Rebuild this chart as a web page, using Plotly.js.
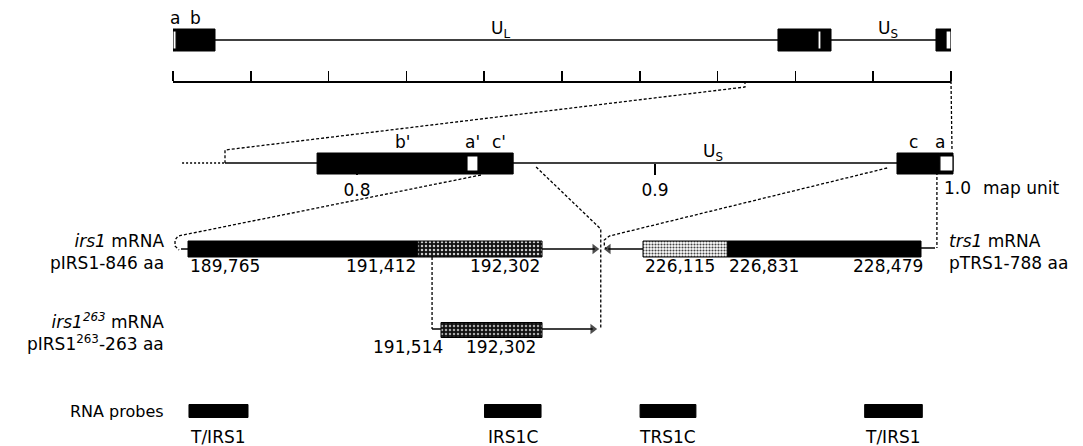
<!DOCTYPE html>
<html><head><meta charset="utf-8">
<script src="https://cdn.plot.ly/plotly-3.0.1.min.js"></script>
<style>html,body{margin:0;padding:0;background:#fff;}</style>
</head><body><div id="chart" style="width:1083px;height:446px;"></div>
<script>
// ================= DATA =================
// Whole genome (map units 0..1)
const genomeRegions = ['a', 'b', "b'", "a'", "c'", 'c', 'a'];
const genomeStart   = [0.000, 0.004, 0.7776, 0.829, 0.8329, 0.9807, 0.9936];
const genomeEnd     = [0.004, 0.054, 0.829, 0.8329, 0.8458, 0.9936, 1.000];
const genomeLabelled = ['a', 'b'];            // region labels shown on the genome line
const genomeUniqueLabels = ['U<sub>L</sub>', 'U<sub>S</sub>'];
const genomeUniqueSpans = [[0.054, 0.7776], [0.8458, 0.9807]];
const mapScaleTicks = [0, 0.1, 0.2, 0.3, 0.4, 0.5, 0.6, 0.7, 0.8, 0.9, 1.0];
const zoomFrom = 0.7352;                     // start of expanded region on the genome

// Expanded S component (map units)
const zoomRegions = ["b'", "a'", "c'", 'c', 'a'];
const zoomStart   = [0.7866, 0.8369, 0.8406, 0.9812, 0.9956];
const zoomEnd     = [0.8369, 0.8406, 0.8524, 0.9956, 1.000];
const zoomLine    = [0.7557, 1.000];
const zoomDotted  = [0.7413, 0.7557];
const zoomTicks   = [0.8, 0.9];
const zoomUniqueLabel = 'U<sub>S</sub>';

// Transcripts (nucleotide coordinates)
const irs1Orf     = [189765, 191412, 192302];   // ORF start, shared-region start, ORF end
const irs1Mrna    = [189715, 192680];           // 5' end, 3' end (arrow)
const irs263Orf   = [191578, 192302];
const irs263Mrna  = [191514, 192665];
const irs263Labels = [191514, 192302];
const trs1Orf     = [226115, 226831, 228479];   // ORF end(left), shared-region end, ORF start(right)
const trs1Mrna    = [228598, 225820];           // 5' end (right), 3' end (arrow, left)

const mrnaNames = ['<i>irs1</i> mRNA<br>pIRS1-846 aa',
                   '<i>irs1<sup>263</sup></i> mRNA<br>pIRS1<sup>263</sup>-263 aa',
                   '<i>trs1</i> mRNA<br>pTRS1-788 aa'];

// RNA probes
const probeNames = ['T/IRS1', 'IRS1C', 'TRS1C', 'T/IRS1'];
const probeStart = [189772, 191890, 226090, 228000];
const probeEnd   = [190195, 192295, 226565, 228490];
const probeGene  = ['irs1', 'irs1', 'trs1', 'trs1'];

// ================= LAYOUT / SCALES =================
const W = 1083, H = 446;
const FONT = 'DejaVu Sans';
const axX  = {domain: [173 / W, 951 / W], range: [0, 1]};
const axX2 = {domain: [0, 1], range: [0.68020, 1.04362]};
const axX3 = {domain: [0, 1], range: [188417.7, 196178.9]};
const axX4 = {domain: [0, 1], range: [220647.2, 229856.6]};
const axes = {x: axX, x2: axX2, x3: axX3, x4: axX4};
function P(ax, v) { const a = axes[ax]; return a.domain[0] + (v - a.range[0]) / (a.range[1] - a.range[0]) * (a.domain[1] - a.domain[0]); }
const px = d => d / W;

// row positions (pixels from top, y axis is reversed 0..446)
const Y_GEN = 40, Y_SCALE = 81, Y_ZOOM = 163, Y_MRNA = 249, Y_263 = 330, Y_PROBE = 411;

const traces = [];
const shapes = [];
function line(xa, xs, y, dash) {
  shapes.push({type: 'line', xref: xa, yref: 'y', x0: xs[0], x1: xs[1], y0: y, y1: y, layer: 'below',
    line: {color: 'black', width: 1.5, dash: dash || 'solid'}});
}
function bars(xa, starts, ends, y, h, marker) {
  traces.push({type: 'bar', orientation: 'h', xaxis: xa, yaxis: 'y', base: starts,
    x: starts.map((s, i) => ends[i] - s), y: starts.map(() => y), width: h,
    marker: marker, hoverinfo: 'skip', showlegend: false});
}
function arrow(xa, from, to, y, sym) {
  traces.push({type: 'scatter', mode: 'lines+markers', xaxis: xa, yaxis: 'y', x: [from, to], y: [y, y],
    line: {color: 'black', width: 1.5}, marker: {symbol: sym, size: [0, 9], color: 'black', line: {width: 0}},
    hoverinfo: 'skip', showlegend: false, cliponaxis: false});
}
const BLACK = {color: 'black', line: {color: 'black', width: 1}};
const WHITE = {color: 'white', line: {color: 'black', width: 1.2}};

// genome
line('x', [0, 1], Y_GEN);
bars('x', genomeStart, genomeEnd, Y_GEN, 22, BLACK);
const gA = genomeRegions.map((r, i) => r.startsWith('a') ? i : -1).filter(i => i >= 0);
bars('x', gA.map(i => genomeStart[i]), gA.map(i => genomeEnd[i]), Y_GEN, 18, WHITE);

// zoom row
line('x2', zoomLine, Y_ZOOM);
line('x2', zoomDotted, Y_ZOOM, '2px,2px');
bars('x2', zoomStart, zoomEnd, Y_ZOOM + 0.5, 21, BLACK);
const zA = zoomRegions.map((r, i) => r.startsWith('a') ? i : -1).filter(i => i >= 0);
bars('x2', zA.map(i => zoomStart[i]), zA.map(i => zoomEnd[i]), Y_ZOOM + 0.5, 15, WHITE);

// transcripts
const stippleDark = {color: 'black', line: {color: 'black', width: 1},
  pattern: {shape: '.', bgcolor: '#111', fgcolor: '#ccc', size: 4, solidity: 0.3, fillmode: 'replace'}};
const stippleDarker = {color: 'black', line: {color: 'black', width: 1},
  pattern: {shape: '.', bgcolor: '#111', fgcolor: '#aaa', size: 4, solidity: 0.3, fillmode: 'replace'}};
const stippleLight = {color: 'white', line: {color: 'black', width: 1},
  pattern: {shape: '.', bgcolor: '#fff', fgcolor: '#444', size: 3, solidity: 0.4, fillmode: 'replace'}};

line('x3', [irs1Mrna[0], irs1Orf[2]], Y_MRNA);
bars('x3', [irs1Orf[0]], [irs1Orf[1]], Y_MRNA, 16, BLACK);
bars('x3', [irs1Orf[1]], [irs1Orf[2]], Y_MRNA, 16, stippleDark);
arrow('x3', irs1Orf[2], irs1Mrna[1], Y_MRNA, 'triangle-right');

line('x3', [irs263Mrna[0], irs263Orf[1]], Y_263 - 1);
bars('x3', [irs263Orf[0]], [irs263Orf[1]], Y_263, 15, stippleDarker);
arrow('x3', irs263Orf[1], irs263Mrna[1], Y_263 - 1, 'triangle-right');

line('x4', [trs1Orf[0], trs1Mrna[0]], Y_MRNA - 1);
bars('x4', [trs1Orf[1]], [trs1Orf[2]], Y_MRNA, 16, BLACK);
bars('x4', [trs1Orf[0]], [trs1Orf[1]], Y_MRNA, 16, stippleLight);
arrow('x4', trs1Orf[0], trs1Mrna[1], Y_MRNA, 'triangle-left');

// probes
['irs1', 'trs1'].forEach(g => {
  const idx = probeGene.map((p, i) => p === g ? i : -1).filter(i => i >= 0);
  bars(g === 'irs1' ? 'x3' : 'x4', idx.map(i => probeStart[i]), idx.map(i => probeEnd[i]), Y_PROBE, 13, BLACK);
});

// ================= ANNOTATIONS =================
const ann = [];
function txt(xref, x, y, text, o) {
  ann.push(Object.assign({xref: xref, yref: 'y', x: x, y: y, text: text, showarrow: false,
    font: {family: FONT, size: 17, color: 'black'}, xanchor: 'center', yanchor: 'middle'}, o || {}));
}
genomeLabelled.forEach(lbl => {
  const i = genomeRegions.indexOf(lbl);
  txt('x', (genomeStart[i] + genomeEnd[i]) / 2, 18, lbl);
});
genomeUniqueLabels.forEach((l, i) => txt('x', (genomeUniqueSpans[i][0] + genomeUniqueSpans[i][1]) / 2, 29, l, {xshift: 4}));

const zoomLabelShift = {"b'": 10, "a'": 0, "c'": 3, 'c': -5, 'a': -6};
zoomRegions.forEach((r, i) => txt('x2', (zoomStart[i] + zoomEnd[i]) / 2, 142, r, {xshift: zoomLabelShift[r]}));
txt('x2', (zoomEnd[2] + zoomStart[3]) / 2, 152, zoomUniqueLabel, {xshift: 8});
txt('x2', 1.0, 188, '1.0', {xanchor: 'left', xshift: -11});
txt('x2', 1.0, 188, 'map unit', {xanchor: 'left', xshift: 28});

const fmt = v => v.toLocaleString('en-US');
txt('x3', irs1Orf[0], 266, fmt(irs1Orf[0]), {xanchor: 'left'});
txt('x3', irs1Orf[1], 266, fmt(irs1Orf[1]), {xanchor: 'right'});
txt('x3', irs1Orf[2], 266, fmt(irs1Orf[2]), {xanchor: 'right'});
txt('x3', irs263Orf[0], 347, fmt(irs263Labels[0]), {xanchor: 'right', xshift: 4});
txt('x3', irs263Labels[1], 347, fmt(irs263Labels[1]), {xanchor: 'right', xshift: -4});
txt('x4', trs1Orf[0], 266, fmt(trs1Orf[0]), {xanchor: 'left'});
txt('x4', trs1Orf[1], 266, fmt(trs1Orf[1]), {xanchor: 'left'});
txt('x4', trs1Orf[2], 266, fmt(trs1Orf[2]), {xanchor: 'right', xshift: 4});

txt('paper', px(166), 252, mrnaNames[0], {xanchor: 'right', align: 'right'});
txt('paper', px(166), 332, mrnaNames[1], {xanchor: 'right', align: 'right'});
txt('paper', px(947), 252, mrnaNames[2], {xanchor: 'left', align: 'left'});
txt('paper', px(166), Y_PROBE, 'RNA probes', {xanchor: 'right', font: {family: FONT, size: 16, color: 'black'}});
probeNames.forEach((n, i) => {
  const a = probeGene[i] === 'irs1' ? 'x3' : 'x4';
  txt(a, (probeStart[i] + probeEnd[i]) / 2, 437, n);
});

// ================= DASHED CONNECTORS =================
function path(pts, dash) {
  const d = pts.map((p, i) => (i ? 'L' : 'M') + p[0].toFixed(5) + ',' + p[1]).join(' ');
  shapes.push({type: 'path', xref: 'paper', yref: 'y', path: d, line: {color: 'black', width: 1.3, dash: dash || '3px,2px'}});
}
const zs = P('x', zoomFrom), ze = P('x', 1.0);
path([[zs, Y_SCALE], [zs, Y_SCALE + 6], [P('x2', zoomLine[0]), 150], [P('x2', zoomLine[0]), Y_ZOOM]]);
path([[ze, Y_SCALE], [P('x2', 1.0) - px(1), 151]]);
const s1 = P('x3', irs1Mrna[0]);
path([[P('x2', 0.8416), 175], [s1 - px(3), 236], [s1 - px(6), 240], [s1 - px(6), 246], [s1 - px(2), 250]]);
const aEnd = P('x3', irs1Mrna[1]) + px(6);
path([[P('x2', 0.8601), 167], [aEnd, 229], [aEnd, Y_263 - 1]]);
const t1 = P('x4', trs1Mrna[1]) - px(4);
path([[P('x2', 0.9779), 168], [t1 + px(5), 236], [t1, 240], [t1, 246], [t1 + px(2), 249]]);
const tA = P('x2', 0.9946);
path([[tA, 172], [tA, Y_MRNA - 1]]);
const r263 = P('x3', irs263Mrna[0]);
path([[r263, 257], [r263, Y_263 - 1]]);

const hidden = {visible: false, showgrid: false, zeroline: false, fixedrange: true};
const layout = {
  width: W, height: H, autosize: false,
  margin: {l: 0, r: 0, t: 0, b: 0, pad: 0},
  paper_bgcolor: 'white', plot_bgcolor: 'rgba(0,0,0,0)',
  showlegend: false, barmode: 'overlay', bargap: 0,
  font: {family: FONT, size: 17, color: 'black'},
  xaxis: {domain: axX.domain, range: axX.range, anchor: 'free', position: 1 - Y_SCALE / H, side: 'top',
    showline: true, linecolor: 'black', linewidth: 1.5, ticks: 'outside', ticklen: 10, tickwidth: 1.5,
    tickcolor: 'black', tickvals: mapScaleTicks, showticklabels: false, showgrid: false, zeroline: false, fixedrange: true},
  xaxis2: {domain: axX2.domain, range: axX2.range, anchor: 'free', position: 1 - Y_ZOOM / H, side: 'bottom',
    showline: false, ticks: 'outside', ticklen: 11, tickwidth: 1.3, tickcolor: 'black', tickvals: zoomTicks,
    ticktext: zoomTicks.map(v => v.toFixed(1)), tickfont: {family: FONT, size: 17}, layer: 'below traces',
    showgrid: false, zeroline: false, fixedrange: true, ticklabelstandoff: 1},
  xaxis3: Object.assign({domain: axX3.domain, range: axX3.range, anchor: 'y'}, hidden),
  xaxis4: Object.assign({domain: axX4.domain, range: axX4.range, anchor: 'y'}, hidden),
  yaxis: Object.assign({domain: [0, 1], range: [H, 0], anchor: 'x3'}, hidden),
  annotations: ann, shapes: shapes
};
Plotly.newPlot('chart', traces, layout, {staticPlot: true, displayModeBar: false});
</script></body></html>
